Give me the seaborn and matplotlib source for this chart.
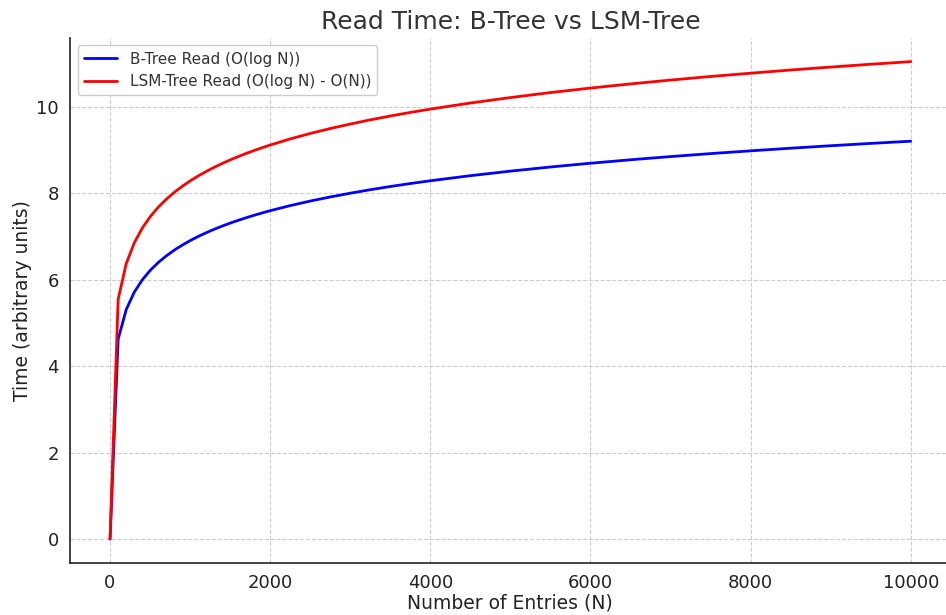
import matplotlib
matplotlib.use("Agg")
import matplotlib.pyplot as plt
import seaborn as sns
import pandas as pd

# Number of entries sampled along the x axis
entries = [1, 102, 203, 304, 405, 506, 607, 708, 809, 910, 1011, 1112, 1213,
           1314, 1415, 1516, 1617, 1718, 1819, 1920, 2021, 2250, 2500, 2750,
           3000, 3250, 3500, 3750, 4000, 4500, 5000, 5500, 6000, 6500, 7000,
           7500, 8000, 8500, 9000, 9500, 10000]

# Read time for the B-Tree
btree_read = [0.0, 4.625, 5.313, 5.717, 6.004, 6.227, 6.409, 6.562, 6.696,
              6.813, 6.919, 7.014, 7.101, 7.181, 7.255, 7.324, 7.388, 7.449,
              7.506, 7.560, 7.611, 7.719, 7.824, 7.919, 8.006, 8.087, 8.161,
              8.230, 8.294, 8.412, 8.517, 8.613, 8.700, 8.780, 8.854, 8.923,
              8.987, 9.048, 9.105, 9.159, 9.210]

# Read time for the LSM-Tree
lsm_read = [0.0, 5.550, 6.376, 6.860, 7.205, 7.472, 7.691, 7.874, 8.035,
            8.176, 8.303, 8.417, 8.521, 8.617, 8.706, 8.789, 8.866, 8.939,
            9.007, 9.072, 9.133, 9.263, 9.389, 9.503, 9.607, 9.704, 9.793,
            9.876, 9.953, 10.094, 10.220, 10.336, 10.440, 10.536, 10.625,
            10.708, 10.784, 10.858, 10.926, 10.991, 11.052]

series_labels = ["B-Tree Read (O(log N))", "LSM-Tree Read (O(log N) - O(N))"]
series_colors = ["blue", "red"]

df = pd.concat([
    pd.DataFrame({"N": entries, "time": btree_read, "series": series_labels[0]}),
    pd.DataFrame({"N": entries, "time": lsm_read, "series": series_labels[1]}),
])

sns.set_style("white")
plt.rcParams["font.family"] = ["DejaVu Sans"]

fig = plt.figure(figsize=(9.46, 6.15), dpi=100)
ax = fig.add_axes([0.074, 0.0846, 0.931, 0.854])

sns.lineplot(data=df, x="N", y="time", hue="series", hue_order=series_labels,
             palette=series_colors, linewidth=2, ax=ax, estimator=None, sort=False)

ax.grid(True, linestyle="--", color="#cccccc", linewidth=0.8)
ax.set_axisbelow(True)
for side in ("top", "right"):
    ax.spines[side].set_visible(False)
for side in ("left", "bottom"):
    ax.spines[side].set_color("#222222")
    ax.spines[side].set_linewidth(1.2)

ax.tick_params(axis="both", direction="in", length=5, width=1,
               labelsize=13, colors="#222222", pad=8)
ax.set_xticks([0, 2000, 4000, 6000, 8000, 10000])
ax.set_yticks([0, 2, 4, 6, 8, 10])
ax.margins(x=0.05, y=0.05)

ax.set_title("Read Time: B-Tree vs LSM-Tree", fontsize=18, color="#333333", pad=6)
ax.set_xlabel("Number of Entries (N)", fontsize=13.5, color="#222222", labelpad=1)
ax.set_ylabel("Time (arbitrary units)", fontsize=13.5, color="#222222", labelpad=3)

leg = ax.legend(loc="upper left", fontsize=11, frameon=True, fancybox=True,
                edgecolor="#cccccc", framealpha=1, handlelength=2.2)
for t in leg.get_texts():
    t.set_color("#333333")

fig.savefig("out.png", dpi=100)
